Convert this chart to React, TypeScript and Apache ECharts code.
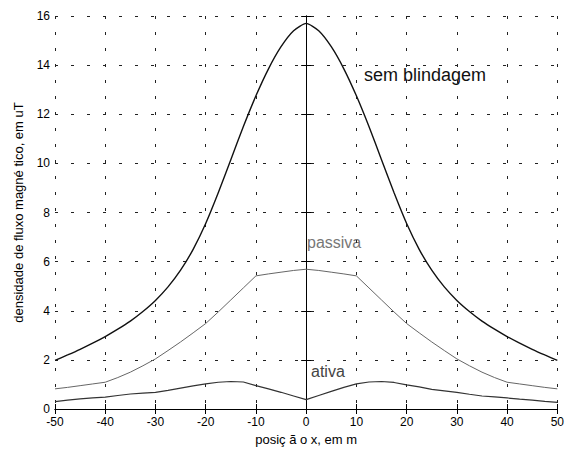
import React, { useEffect, useRef } from "react";
import * as echarts from "echarts";

const xPositions = [-50, -47.5, -45, -42.5, -40, -37.5, -35, -32.5, -30, -27.5, -25, -22.5, -20, -17.5, -15, -12.5, -10, -7.5, -5, -2.5, 0, 2.5, 5, 7.5, 10, 12.5, 15, 17.5, 20, 22.5, 25, 27.5, 30, 32.5, 35, 37.5, 40, 42.5, 45, 47.5, 50];

const semBlindagem = [1.98, 2.2, 2.43, 2.68, 2.95, 3.25, 3.58, 3.97, 4.42, 4.97, 5.65, 6.5, 7.55, 8.8, 10.15, 11.5, 12.75, 13.85, 14.75, 15.4, 15.7, 15.4, 14.75, 13.85, 12.75, 11.5, 10.15, 8.8, 7.55, 6.5, 5.65, 4.97, 4.42, 3.97, 3.58, 3.25, 2.95, 2.68, 2.43, 2.2, 1.98];

const passiva = [0.82, 0.88, 0.95, 1.02, 1.09, 1.28, 1.5, 1.76, 2.04, 2.38, 2.73, 3.1, 3.48, 3.95, 4.44, 4.93, 5.42, 5.5, 5.57, 5.64, 5.69, 5.64, 5.57, 5.5, 5.42, 4.93, 4.44, 3.95, 3.48, 3.1, 2.73, 2.38, 2.04, 1.76, 1.5, 1.28, 1.09, 1.02, 0.95, 0.88, 0.82];

const ativa = [0.3, 0.36, 0.41, 0.45, 0.48, 0.55, 0.61, 0.65, 0.68, 0.76, 0.85, 0.94, 1.02, 1.09, 1.12, 1.1, 0.95, 0.82, 0.68, 0.53, 0.38, 0.55, 0.72, 0.88, 1.02, 1.1, 1.12, 1.08, 0.98, 0.9, 0.8, 0.74, 0.68, 0.6, 0.53, 0.49, 0.45, 0.4, 0.36, 0.31, 0.27];

const xTicks = { min: -50, max: 50, interval: 10 };
const yTicks = { min: 0, max: 16, interval: 2 };

const FONT = "'Liberation Sans', Arial, Helvetica, sans-serif";

export default function App() {
  const ref = useRef<HTMLDivElement>(null);
  useEffect(() => {
    if (!ref.current) return;
    const chart = echarts.init(ref.current, undefined, { renderer: "svg" });
    const pair = (ys: number[]) => xPositions.map((x, i) => [x, ys[i]]);
    const axisLine = { show: true, lineStyle: { color: "#000", width: 1 } };
    const tick = { show: true, inside: true, length: 5, lineStyle: { color: "#000" } };
    const grid = { show: true, lineStyle: { color: "#222", width: 1, type: [3, 13] as any } };
    chart.setOption({
      animation: false,
      backgroundColor: "#fff",
      textStyle: { fontFamily: FONT },
      grid: { left: 55, right: 7, top: 16, bottom: 43, show: false },
      xAxis: [
        {
          type: "value",
          ...xTicks,
          position: "bottom",
          axisLine,
          axisTick: tick,
          splitLine: grid,
          axisLabel: { color: "#000", fontSize: 12, margin: 7, fontFamily: FONT },
          name: "posiç ã o x, em m",
          nameLocation: "middle",
          nameGap: 24,
          nameTextStyle: { color: "#000", fontSize: 13, fontFamily: FONT },
        },
        {
          type: "value",
          ...xTicks,
          position: "top",
          axisLine,
          axisTick: tick,
          splitLine: { show: false },
          axisLabel: { show: false },
        },
      ],
      yAxis: [
        {
          type: "value",
          ...yTicks,
          position: "left",
          axisLine,
          axisTick: tick,
          splitLine: grid,
          axisLabel: { color: "#000", fontSize: 12, margin: 5, fontFamily: FONT },
          name: "densidade de fluxo magné tico, em uT",
          nameLocation: "middle",
          nameGap: 30,
          nameTextStyle: { color: "#000", fontSize: 13, fontFamily: FONT },
        },
        {
          type: "value",
          ...yTicks,
          position: "right",
          axisLine,
          axisTick: tick,
          splitLine: { show: false },
          axisLabel: { show: false },
        },
      ],
      series: [
        {
          name: "sem blindagem",
          type: "line",
          data: pair(semBlindagem),
          showSymbol: false,
          smooth: 0.2,
          lineStyle: { color: "#111", width: 1.4 },
        },
        {
          name: "passiva",
          type: "line",
          data: pair(passiva),
          showSymbol: false,
          lineStyle: { color: "#666", width: 1 },
        },
        {
          name: "ativa",
          type: "line",
          data: pair(ativa),
          showSymbol: false,
          lineStyle: { color: "#333", width: 1.2 },
        },
      ],
      graphic: [
        { type: "text", left: 364, top: 66, style: { text: "sem blindagem", font: `18px ${FONT}`, fill: "#111" } },
        { type: "text", left: 307, top: 234, style: { text: "passiva", font: `16px ${FONT}`, fill: "#777" } },
        { type: "text", left: 311, top: 363, style: { text: "ativa", font: `16px ${FONT}`, fill: "#444" } },
      ],
    });
    return () => chart.dispose();
  }, []);
  return <div ref={ref} style={{ width: 567, height: 452, position: "absolute", left: 0, top: 0 }} />;
}
